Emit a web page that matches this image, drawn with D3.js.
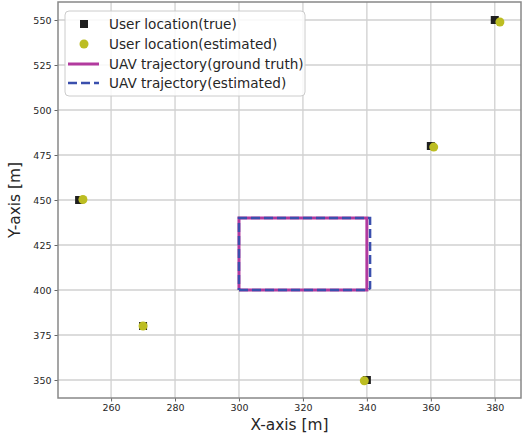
<!DOCTYPE html>
<html>
<head>
<meta charset="utf-8">
<script src="https://cdn.jsdelivr.net/npm/d3@7"></script>
<style>
  body { margin: 0; background: #fff; }
  text { font-family: "DejaVu Sans", sans-serif; }
</style>
</head>
<body>
<div id="chart"></div>
<script>
// user positions
var trueX = [250, 270, 340, 360, 380];
var trueY = [450, 380, 350, 480, 550];
var estX = [251.2, 270, 339.2, 360.9, 381.6];
var estY = [450.3, 380, 349.6, 479.4, 548.9];

// UAV trajectory corners
var gtX = [300, 340, 340, 300, 300];
var gtY = [400, 400, 440, 440, 400];
var uavEstX = [300, 340.3, 341, 341, 300, 300];
var uavEstY = [400, 400, 401, 440, 440, 400];

var xTicks = [260, 280, 300, 320, 340, 360, 380];
var yTicks = [350, 375, 400, 425, 450, 475, 500, 525, 550];

var legendLabels = ["User location(true)", "User location(estimated)",
  "UAV trajectory(ground truth)", "UAV trajectory(estimated)"];

var W = 524, H = 441;
var margin = {top: 2, right: 3, bottom: 43, left: 58};
var width = W - margin.left - margin.right,
    height = H - margin.top - margin.bottom;

var svg = d3.select("#chart").append("svg")
  .attr("width", W).attr("height", H)
  .append("g")
  .attr("transform", `translate(${margin.left},${margin.top})`);

var x = d3.scaleLinear().domain([243.4, 388.2]).range([0, width]);
var y = d3.scaleLinear().domain([340, 560]).range([height, 0]);

// grid
svg.append("g").selectAll("line").data(xTicks).join("line")
  .attr("x1", d => x(d)).attr("x2", d => x(d))
  .attr("y1", 0).attr("y2", height)
  .attr("stroke", "#d0d0d0").attr("stroke-width", 1.3);
svg.append("g").selectAll("line").data(yTicks).join("line")
  .attr("y1", d => y(d)).attr("y2", d => y(d))
  .attr("x1", 0).attr("x2", width)
  .attr("stroke", "#d0d0d0").attr("stroke-width", 1.3);

// axes
var xAxis = svg.append("g")
  .attr("transform", `translate(0,${height})`)
  .call(d3.axisBottom(x).tickValues(xTicks).tickSizeInner(3.5).tickSizeOuter(0).tickPadding(3));
var yAxis = svg.append("g")
  .call(d3.axisLeft(y).tickValues(yTicks).tickSizeInner(3.5).tickSizeOuter(0).tickPadding(3));
[xAxis, yAxis].forEach(a => {
  a.select(".domain").remove();
  a.selectAll("line").attr("stroke", "#666");
  a.selectAll("text").attr("fill", "#262626").style("font-size", "9.5px");
});

// frame
svg.append("rect")
  .attr("width", width).attr("height", height)
  .attr("fill", "none").attr("stroke", "#888").attr("stroke-width", 1.5);

svg.append("text")
  .attr("x", width / 2).attr("y", height + 32)
  .attr("text-anchor", "middle")
  .style("font-size", "15.4px").attr("fill", "#262626")
  .text("X-axis [m]");
svg.append("text")
  .attr("transform", `translate(${-38},${height / 2}) rotate(-90)`)
  .attr("text-anchor", "middle")
  .style("font-size", "15.4px").attr("fill", "#262626")
  .text("Y-axis [m]");

// trajectories
var line = d3.line().x(d => x(d[0])).y(d => y(d[1]));
svg.append("path")
  .datum(d3.zip(gtX, gtY))
  .attr("d", line).attr("fill", "none")
  .attr("stroke", "#b23a9e").attr("stroke-width", 3);
svg.append("path")
  .datum(d3.zip(uavEstX, uavEstY))
  .attr("d", line).attr("fill", "none")
  .attr("stroke", "#3a4fad").attr("stroke-width", 2.5)
  .attr("stroke-dasharray", "9,4");

// users
var sq = 8;
svg.append("g").selectAll("rect").data(d3.zip(trueX, trueY)).join("rect")
  .attr("x", d => x(d[0]) - sq / 2).attr("y", d => y(d[1]) - sq / 2)
  .attr("width", sq).attr("height", sq)
  .attr("fill", "#1f1f1f");
svg.append("g").selectAll("circle").data(d3.zip(estX, estY)).join("circle")
  .attr("cx", d => x(d[0])).attr("cy", d => y(d[1]))
  .attr("r", 4.5)
  .attr("fill", "#bcbd22");

// legend
var lg = svg.append("g").attr("transform", "translate(7,9)");
lg.append("rect")
  .attr("width", 240).attr("height", 85).attr("rx", 4)
  .attr("fill", "#fff").attr("fill-opacity", 0.85)
  .attr("stroke", "#cccccc").attr("stroke-width", 1);
var rowY = [13, 33, 53, 72];
lg.append("rect").attr("x", 19 - sq / 2).attr("y", rowY[0] - sq / 2)
  .attr("width", sq).attr("height", sq).attr("fill", "#1f1f1f");
lg.append("circle").attr("cx", 19).attr("cy", rowY[1]).attr("r", 4.5)
  .attr("fill", "#bcbd22");
lg.append("line").attr("x1", 3).attr("x2", 34)
  .attr("y1", rowY[2]).attr("y2", rowY[2])
  .attr("stroke", "#b23a9e").attr("stroke-width", 3);
lg.append("line").attr("x1", 3).attr("x2", 34)
  .attr("y1", rowY[3]).attr("y2", rowY[3])
  .attr("stroke", "#3a4fad").attr("stroke-width", 2.5)
  .attr("stroke-dasharray", "9,4");
lg.selectAll("text.lab").data(legendLabels).join("text")
  .attr("class", "lab")
  .attr("x", 44).attr("y", (d, i) => rowY[i])
  .attr("dy", "0.35em")
  .style("font-size", "13.6px").attr("fill", "#262626")
  .text(d => d);
</script>
</body>
</html>
